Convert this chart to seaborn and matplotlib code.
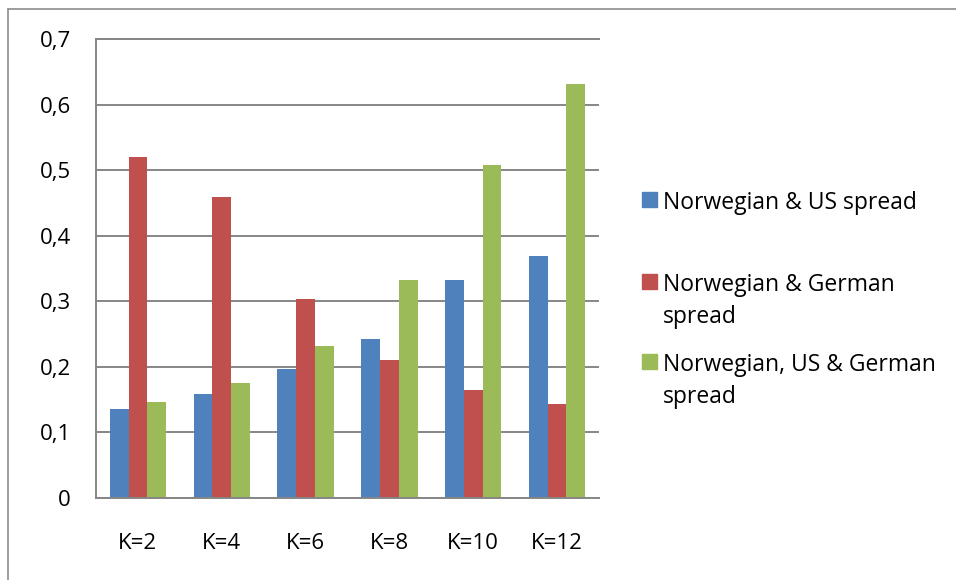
import matplotlib
matplotlib.use("Agg")
import matplotlib.pyplot as plt
import seaborn as sns
import pandas as pd
from matplotlib.lines import Line2D
from matplotlib.patches import Rectangle
from matplotlib.ticker import FuncFormatter, MultipleLocator

# Spread combinations by lag order K
categories = ["K=2", "K=4", "K=6", "K=8", "K=10", "K=12"]
us_spread = [0.135, 0.159, 0.197, 0.243, 0.332, 0.369]
german_spread = [0.520, 0.459, 0.304, 0.210, 0.164, 0.144]
us_german_spread = [0.147, 0.175, 0.232, 0.333, 0.508, 0.632]
series_names = [
    "Norwegian & US spread",
    "Norwegian & German\nspread",
    "Norwegian, US & German\nspread",
]
colors = ["#4F81BD", "#C0504D", "#9BBB59"]

rows = []
for name, vals in zip(series_names, [us_spread, german_spread, us_german_spread]):
    for k, v in zip(categories, vals):
        rows.append({"K": k, "value": v, "series": name})
df = pd.DataFrame(rows)

sns.set_theme(style="white")
plt.rcParams["font.family"] = ["Open Sans", "DejaVu Sans"]

W, H = 956, 580
fig = plt.figure(figsize=(W / 100, H / 100), dpi=100)
fig.patch.set_facecolor("white")
ax = fig.add_axes([96 / W, 1 - 498 / H, (599 - 96) / W, (498 - 39) / H])

sns.barplot(data=df, x="K", y="value", hue="series", order=categories,
            hue_order=series_names, palette=colors, width=0.67,
            saturation=1, linewidth=0, legend=False, ax=ax)

grid_c = "#868686"
ax.set_ylim(0, 0.7)
ax.set_xlim(-0.5, len(categories) - 0.5)
ax.yaxis.set_major_locator(MultipleLocator(0.1))
ax.yaxis.set_major_formatter(FuncFormatter(
    lambda v, _: "0" if abs(v) < 1e-9 else f"{v:.1f}".replace(".", ",")))
ax.set_axisbelow(True)
ax.yaxis.grid(True, color=grid_c, linewidth=1.4)
ax.xaxis.grid(False)
for side in ["left", "bottom", "top"]:
    ax.spines[side].set_visible(True)
    ax.spines[side].set_color(grid_c)
    ax.spines[side].set_linewidth(1.4)
ax.spines["right"].set_visible(False)
ax.set_xlabel("")
ax.set_ylabel("")
ax.tick_params(axis="y", length=0, pad=18, labelsize=16, colors="black")
ax.tick_params(axis="x", length=0, pad=25, labelsize=16, colors="black")

# Legend drawn beside the plot area: square beside the first line of each label
legend_rows = [(207, series_names[0]), (289, series_names[1]), (369, series_names[2])]
for (base, label), c in zip(legend_rows, colors):
    fig.patches.append(Rectangle((642 / W, 1 - base / H), 15 / W, 15 / H,
                                 transform=fig.transFigure, color=c))
    fig.text(663 / W, 1 - (base - 16) / H, label, fontsize=16.5, va="top",
             ha="left", linespacing=1.45, color="black")

# Chart frame
frame_c = "#8c8c8c"
fig.add_artist(Line2D([8 / W, 8 / W], [0, 1 - 9 / H], transform=fig.transFigure,
                      color=frame_c, linewidth=1.2))
fig.add_artist(Line2D([8 / W, 1], [1 - 9 / H, 1 - 9 / H], transform=fig.transFigure,
                      color=frame_c, linewidth=1.2))

fig.savefig("out.png", dpi=100, facecolor="white")
